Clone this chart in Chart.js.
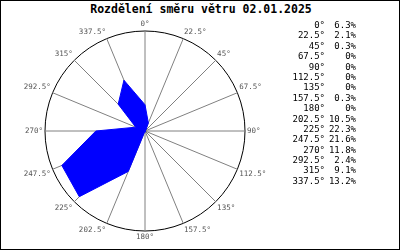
<!DOCTYPE html>
<html>
<head>
<meta charset="utf-8">
<script src="https://cdn.jsdelivr.net/npm/chart.js@4/dist/chart.umd.min.js"></script>
<style>
  html, body { margin: 0; padding: 0; background: #fff; }
  #wrap { position: relative; width: 400px; height: 250px; box-sizing: border-box; border: 1px solid #000; overflow: hidden; }
  #title { position: absolute; left: 0; top: 1px; width: 400px; text-align: center; font: bold 11.5px "DejaVu Sans Mono", monospace; color: #000; }
  #box { position: absolute; left: -1px; top: 11px; width: 290px; height: 238px; }
  #list { position: absolute; left: 280px; top: 19px; font: 9px "DejaVu Sans Mono", monospace; color: #000; }
  #list .row { height: 10.4px; line-height: 10.4px; white-space: pre; }
  #list span { display: inline-block; text-align: right; }
  #list .a { width: 44px; }
  #list .v { width: 31px; }
</style>
</head>
<body>
<div id="wrap">
  <div id="title">Rozdělení směru větru 02.01.2025</div>
  <div id="box"><canvas id="rose"></canvas></div>
  <div id="list"></div>
</div>
<script>
const directions = [0, 22.5, 45, 67.5, 90, 112.5, 135, 157.5, 180, 202.5, 225, 247.5, 270, 292.5, 315, 337.5];
const shares = [6.3, 2.1, 0.3, 0, 0, 0, 0, 0.3, 0, 10.5, 22.3, 21.6, 11.8, 2.4, 9.1, 13.2];
const scaleMax = 24;

function fmtShare(v) {
  return v === 0 ? '0%' : v.toFixed(1) + '%';
}

// right side list
let list = document.getElementById('list');
directions.forEach((d, i) => {
  let row = document.createElement('div');
  row.className = 'row';
  row.innerHTML = '<span class="a">' + d + '°</span><span class="v">' + fmtShare(shares[i]) + '</span>';
  list.appendChild(row);
});

let ctx = document.getElementById('rose').getContext('2d');
new Chart(ctx, {
  type: 'radar',
  data: {
    labels: directions.map((d) => d + '°'),
    datasets: [
      {
        data: shares,
        backgroundColor: '#0000ff',
        borderColor: '#0000ff',
        borderWidth: 1,
        pointRadius: 0,
        fill: true,
        tension: 0,
      },
    ],
  },
  options: {
    responsive: true,
    maintainAspectRatio: false,
    animation: false,
    layout: { padding: { top: 8, bottom: 8 } },
    plugins: {
      legend: { display: false },
      tooltip: { enabled: false },
    },
    scales: {
      r: {
        min: 0,
        max: scaleMax,
        ticks: { display: false, stepSize: scaleMax },
        grid: {
          circular: true,
          color: (c) => (c.index === 0 ? 'transparent' : '#000'),
          lineWidth: 1,
        },
        angleLines: { color: '#808080', lineWidth: 1 },
        pointLabels: {
          color: '#555',
          padding: 2,
          font: { family: 'DejaVu Sans Mono', size: 7.5 },
        },
      },
    },
  },
});
</script>
</body>
</html>
